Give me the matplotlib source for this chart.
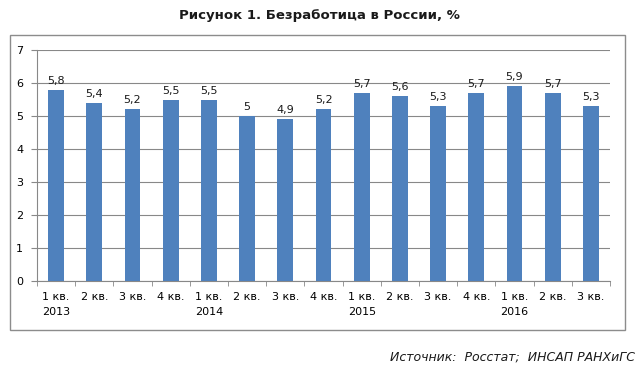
import matplotlib
matplotlib.use("Agg")
import matplotlib.pyplot as plt
from matplotlib.patches import Rectangle
import numpy as np

quarters = ["1 кв.\n2013", "2 кв.", "3 кв.", "4 кв.",
            "1 кв.\n2014", "2 кв.", "3 кв.", "4 кв.",
            "1 кв.\n2015", "2 кв.", "3 кв.", "4 кв.",
            "1 кв.\n2016", "2 кв.", "3 кв."]
values = [5.8, 5.4, 5.2, 5.5, 5.5, 5.0, 4.9, 5.2, 5.7, 5.6, 5.3, 5.7, 5.9, 5.7, 5.3]
labels = ["5,8", "5,4", "5,2", "5,5", "5,5", "5", "4,9", "5,2", "5,7", "5,6", "5,3", "5,7", "5,9", "5,7", "5,3"]

plt.rcParams['font.family'] = ['DejaVu Sans']

fig = plt.figure(figsize=(6.39, 3.68), dpi=100)
fig.patch.set_facecolor('white')

# outer chart frame
fig.patches.append(Rectangle((10/639, 1-330/368), 615/639, 295/368, transform=fig.transFigure,
                             fill=False, edgecolor='#8c8c8c', linewidth=1.0))

ax = fig.add_axes([37/639, 1-281/368, 573/639, 231/368])
x = np.arange(len(values))
ax.bar(x, values, width=0.41, color='#4F81BD', zorder=3)
for xi, v, l in zip(x, values, labels):
    ax.text(xi, v + 0.12, l, ha='center', va='bottom', fontsize=8, color='#1a1a1a')

ax.set_xlim(-0.5, len(values) - 0.5)
ax.set_ylim(0, 7)
ax.set_yticks(range(0, 8))
ax.yaxis.grid(True, color='#888888', linewidth=0.8, zorder=0)
ax.set_xticks(x)
ax.set_xticklabels(quarters, fontsize=8, ha='center', linespacing=1.6)
ax.set_xticks(np.arange(-0.5, len(values), 1), minor=True)
ax.tick_params(axis='x', which='major', length=0, pad=8)
ax.tick_params(axis='x', which='minor', length=3.5, color='#888888')
ax.tick_params(axis='y', length=4, color='#888888', labelsize=8, pad=6)
for s in ['top', 'right']:
    ax.spines[s].set_visible(False)
for s in ['left', 'bottom']:
    ax.spines[s].set_color('#888888')
    ax.spines[s].set_linewidth(0.8)

fig.text(0.5, 1-15/368, "Рисунок 1. Безработица в России, %", ha='center', va='center',
         fontsize=9.5, fontweight='bold', color='#1a1a1a')
fig.text(635/639, 1-357/368, "Источник:  Росстат;  ИНСАП РАНХиГС", ha='right', va='center',
         fontsize=9, style='italic', color='#1a1a1a')

fig.savefig("out.png", dpi=100, facecolor='white')
